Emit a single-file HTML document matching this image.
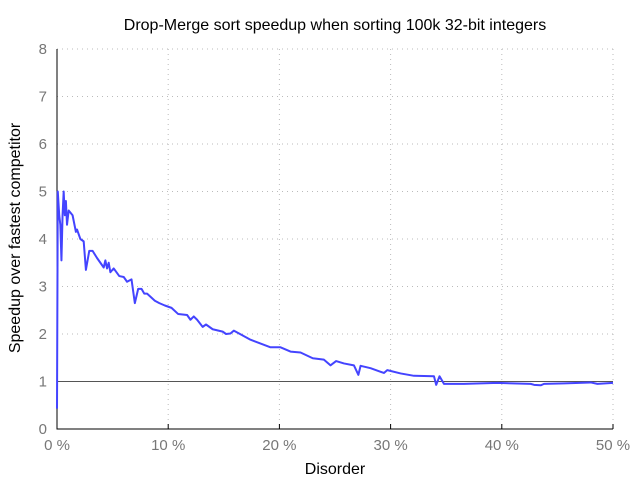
<!DOCTYPE html>
<html><head><meta charset="utf-8"><style>
body{margin:0;background:#fff}
svg{display:block;font-family:"Liberation Sans",sans-serif}
</style></head><body>
<svg id="c" width="640" height="480"></svg>
<script>
const xPct=[0,0.07,0.2,0.3,0.4,0.5,0.6,0.7,0.8,0.9,1.05,1.4,1.7,1.8,2.1,2.4,2.6,2.9,3.2,3.6,4.2,4.35,4.5,4.65,4.8,5.1,5.6,6.0,6.3,6.7,7.0,7.3,7.6,7.85,8.1,8.8,9.2,9.7,10.3,10.9,11.7,12.0,12.3,12.6,13.1,13.4,14.0,14.9,15.2,15.6,15.9,17.4,19.2,20.1,21.0,21.9,23.0,24.0,24.6,25.1,25.8,26.7,27.1,27.3,28.2,29.4,29.7,30.9,32.1,33.9,34.1,34.4,34.8,36.6,39.6,42.6,42.9,43.5,43.8,45.6,48.0,48.6,50.0];
const speedup=[0.43,5.0,4.5,4.3,3.55,4.5,5.0,4.5,4.8,4.3,4.6,4.5,4.15,4.2,4.0,3.95,3.35,3.75,3.75,3.6,3.4,3.55,3.38,3.5,3.3,3.38,3.22,3.2,3.1,3.15,2.65,2.95,2.95,2.85,2.85,2.7,2.65,2.6,2.55,2.42,2.4,2.3,2.37,2.3,2.15,2.2,2.1,2.05,2.0,2.01,2.07,1.88,1.72,1.72,1.63,1.61,1.49,1.46,1.34,1.43,1.38,1.34,1.14,1.33,1.28,1.18,1.24,1.17,1.12,1.11,0.93,1.11,0.95,0.95,0.97,0.95,0.93,0.92,0.95,0.96,0.98,0.95,0.97];
const xTicks=[0,10,20,30,40,50];
const yTicks=[0,1,2,3,4,5,6,7,8];
const baseline=[1];
const L=57,R=613,T=49,B=429;
const X=v=>L+(R-L)*v/50, Y=v=>B-(B-T)*v/8;
const s=document.getElementById('c'),NS='http://www.w3.org/2000/svg';
function mk(t,a,txt){const e=document.createElementNS(NS,t);for(const k in a)e.setAttribute(k,a[k]);if(txt!=null)e.textContent=txt;s.appendChild(e);return e;}
xTicks.forEach(v=>{
 if(v>0){const g=mk('line',{x1:X(v),x2:X(v),y1:T,y2:B,stroke:'#bbb','stroke-dasharray':'1,4'});
 
 }
 const tk=mk('line',{x1:X(v),x2:X(v),y1:B,y2:B-5,stroke:'#000'});
 
 
 const t=mk('text',{x:X(v),y:B+21,'text-anchor':'middle','font-size':15,fill:'#777'},v+' %');
 
 
});
yTicks.forEach(v=>{
 if(v>0){const g=mk('line',{x1:L,x2:R,y1:Y(v),y2:Y(v),stroke:'#bbb','stroke-dasharray':'1,4'});
 
 }
 const t=mk('text',{x:L-10,y:Y(v)+5,'text-anchor':'end','font-size':15,fill:'#777'},v);
 
 
});
baseline.forEach(v=>{const b=mk('line',{x1:L,x2:R,y1:Y(v),y2:Y(v),stroke:'#555','stroke-width':1});

});
const ax=mk('path',{d:`M${L},${T}V${B}H${R}`,fill:'none',stroke:'#000','stroke-width':1});


const p=mk('polyline',{points:xPct.map((v,i)=>X(v)+','+Y(speedup[i])).join(' '),fill:'none',stroke:'#4444ff','stroke-width':2,'stroke-linejoin':'round'});


const ti=mk('text',{x:335,y:30,'text-anchor':'middle','font-size':16,fill:'#000'},'Drop-Merge sort speedup when sorting 100k 32-bit integers');


const xl=mk('text',{x:335,y:474,'text-anchor':'middle','font-size':16,fill:'#000'},'Disorder');


const yl=mk('text',{x:0,y:0,'text-anchor':'middle','font-size':16,fill:'#000',transform:'translate(20,238) rotate(-90)'},'Speedup over fastest competitor');


</script>
</body></html>
